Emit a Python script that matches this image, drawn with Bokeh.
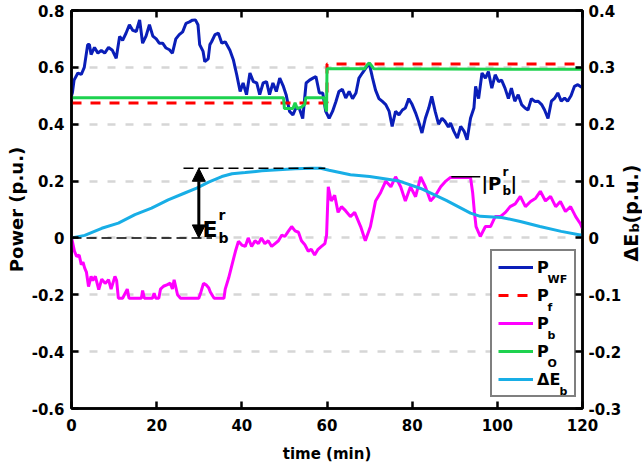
import math
from bokeh.plotting import figure
from bokeh.models import (Range1d, LinearAxis, FixedTicker, Legend, LegendItem,
                          Label, Arrow, NormalHead, BoxAnnotation)
from bokeh.embed import file_html
from bokeh.resources import INLINE

# ---------------- data ----------------
t_wf = [0, 0.2, 0.6, 1.5, 2.3, 3.0, 3.8, 4.2, 4.6, 5.4, 6.2, 7.0, 7.8, 8.7, 9.6, 10.5,
        11.3, 12.0, 12.8, 13.6, 14.4, 15.2, 16.0, 16.7, 17.5, 18.3, 19.1, 19.9, 20.6,
        21.4, 22.2, 23.0, 23.7, 24.5, 25.3, 26.1, 26.9, 27.7, 28.4, 29.1, 29.7, 30.1,
        30.9, 31.3, 32.1, 32.5, 32.9, 33.7, 34.5, 35.3, 36.1, 37.2, 38.0, 38.8, 39.6,
        40.3, 41.1, 41.9, 42.7, 43.5, 44.2, 45.0, 45.8, 46.5, 47.3, 48.1, 48.9, 49.7,
        50.4, 51.2, 52.0, 52.7, 53.5, 54.3, 55.1, 55.9, 56.7, 57.4, 58.2, 59.0, 59.7,
        60.5, 61.3, 62.1, 62.8, 63.6, 64.4, 65.2, 66.0, 66.8, 67.5, 68.3, 69.1, 69.9,
        70.7, 71.4, 72.2, 73.0, 73.8, 74.6, 75.3, 76.1, 76.9, 77.7, 78.4, 79.2, 80.0,
        80.8, 81.5, 82.3, 83.1, 83.9, 84.6, 85.4, 86.2, 87.0, 87.7, 88.5, 89.0, 89.8,
        90.6, 91.4, 92.2, 92.9, 93.7, 94.5, 94.9, 95.6, 96.4, 97.2, 97.9, 98.7, 99.5,
        100.3, 101.0, 101.8, 102.6, 103.3, 104.1, 104.9, 105.7, 106.5, 107.2, 108.0,
        108.8, 109.6, 110.4, 111.1, 111.9, 112.7, 113.5, 114.2, 115.0, 115.8, 116.5,
        117.3, 118.1, 118.9, 119.8]
p_wf = [0.50, 0.51, 0.555, 0.58, 0.575, 0.60, 0.68, 0.68, 0.645, 0.67, 0.65, 0.66, 0.65,
        0.67, 0.66, 0.632, 0.709, 0.695, 0.72, 0.75, 0.73, 0.726, 0.767, 0.685, 0.71,
        0.75, 0.71, 0.70, 0.685, 0.685, 0.668, 0.662, 0.65, 0.70, 0.715, 0.725, 0.755,
        0.76, 0.766, 0.767, 0.75, 0.68, 0.656, 0.62, 0.63, 0.68, 0.69, 0.715, 0.72,
        0.685, 0.69, 0.66, 0.627, 0.574, 0.515, 0.545, 0.504, 0.58, 0.55, 0.545, 0.504,
        0.545, 0.55, 0.504, 0.545, 0.515, 0.562, 0.535, 0.504, 0.445, 0.433, 0.457,
        0.455, 0.42, 0.545, 0.555, 0.562, 0.568, 0.51, 0.51, 0.445, 0.421, 0.445, 0.48,
        0.515, 0.523, 0.492, 0.515, 0.49, 0.51, 0.562, 0.58, 0.597, 0.615, 0.562, 0.52,
        0.49, 0.48, 0.469, 0.445, 0.392, 0.445, 0.433, 0.45, 0.457, 0.49, 0.469, 0.44,
        0.41, 0.369, 0.421, 0.457, 0.498, 0.445, 0.40, 0.421, 0.41, 0.39, 0.404, 0.375,
        0.351, 0.392, 0.375, 0.345, 0.421, 0.457, 0.533, 0.49, 0.58, 0.562, 0.585, 0.527,
        0.574, 0.55, 0.555, 0.527, 0.49, 0.527, 0.481, 0.504, 0.469, 0.457, 0.45, 0.49,
        0.48, 0.481, 0.469, 0.45, 0.42, 0.481, 0.492, 0.51, 0.481, 0.492, 0.481, 0.50,
        0.533, 0.539, 0.53]

t_f = [0, 60, 60, 120]
p_f = [0.475, 0.475, 0.612, 0.612]

t_o = [0, 49.8, 50.0, 52.0, 52.5, 53.0, 54.0, 54.8, 55.0, 59.4, 59.6, 59.9, 60.0,
       68.8, 69.5, 70.0, 70.5, 71.0, 120]
p_o = [0.493, 0.493, 0.455, 0.455, 0.475, 0.455, 0.46, 0.47, 0.493, 0.493, 0.46,
       0.445, 0.595, 0.595, 0.61, 0.615, 0.605, 0.595, 0.593]

t_b = [0, 0.2, 0.7, 1.2, 1.8, 2.3, 2.7, 3.1, 3.5, 4.0, 4.6, 5.0, 5.6, 6.4, 7.1, 7.9,
       8.7, 9.3, 10.2, 10.6, 11.0, 12.0, 13.1, 13.5, 16.4, 16.7, 17.1, 19.0, 19.4,
       19.8, 20.5, 20.9, 21.6, 22.4, 23.2, 23.7, 24.1, 24.9, 25.6, 29.9, 30.4, 31.0,
       31.6, 32.2, 32.6, 33.2, 33.5, 35.8, 36.1, 36.9, 37.7, 38.5, 39.2, 40.0, 40.8,
       41.5, 42.3, 43.1, 43.9, 44.6, 45.4, 46.2, 47.0, 47.8, 48.6, 49.4, 50.1, 50.9,
       51.7, 52.5, 53.3, 54.0, 54.8, 55.6, 56.3, 57.1, 57.9, 58.7, 59.5, 59.9, 60.3,
       61.0, 61.8, 62.6, 63.4, 64.4, 65.5, 66.5, 67.9, 69.0, 70.2, 71.4, 72.6, 73.8,
       75.0, 76.1, 77.3, 78.4, 79.6, 80.8, 82.0, 83.1, 84.3, 85.5, 86.7, 87.9, 89.0,
       93.7, 94.2, 94.6, 95.0, 96.0, 97.2, 98.4, 99.5, 100.7, 101.9, 103.0, 104.2,
       105.4, 106.6, 107.8, 109.0, 110.1, 111.3, 112.5, 113.7, 114.8, 116.0, 117.2,
       118.4, 119.5, 120]
p_b = [0.0, -0.012, -0.047, -0.065, -0.06, -0.094, -0.085, -0.106, -0.12, -0.171,
       -0.135, -0.15, -0.135, -0.182, -0.145, -0.16, -0.147, -0.18, -0.135, -0.15,
       -0.212, -0.212, -0.18, -0.212, -0.212, -0.185, -0.212, -0.212, -0.195, -0.212,
       -0.212, -0.18, -0.17, -0.165, -0.159, -0.18, -0.147, -0.2, -0.212, -0.212,
       -0.19, -0.16, -0.165, -0.175, -0.19, -0.205, -0.212, -0.212, -0.18, -0.141,
       -0.094, -0.047, -0.012, -0.025, -0.03, 0.0, -0.03, -0.01, -0.02, 0.0, -0.02,
       -0.01, -0.03, -0.02, -0.01, 0.01, 0.005, 0.023, 0.04, 0.025, 0.02, -0.01,
       -0.024, -0.047, -0.04, -0.06, -0.04, -0.03, -0.02, 0.01, 0.18, 0.13, 0.15,
       0.09, 0.11, 0.095, 0.075, 0.09, 0.04, -0.01, 0.04, 0.13, 0.16, 0.20, 0.18,
       0.215, 0.18, 0.13, 0.18, 0.145, 0.215, 0.18, 0.13, 0.15, 0.18, 0.20, 0.213,
       0.213, 0.16, 0.093, 0.04, 0.005, 0.04, 0.04, 0.075, 0.075, 0.09, 0.11, 0.12,
       0.146, 0.11, 0.128, 0.14, 0.164, 0.13, 0.146, 0.11, 0.128, 0.093, 0.11, 0.075,
       0.05, 0.033]

t_e = [0, 3.1, 7.1, 11.0, 14.9, 18.8, 22.7, 26.6, 29.4, 32.2, 35.3, 37.7, 40.8, 44.7,
       48.6, 52.5, 56.4, 58.5, 60.5, 65.5, 70, 77, 82, 88, 93.7, 96, 101, 105.4, 110,
       115, 119.5, 120]
d_e = [0, 0.0045, 0.017, 0.026, 0.041, 0.0525, 0.067, 0.079, 0.0875, 0.098, 0.108,
       0.113, 0.115, 0.118, 0.12, 0.1215, 0.1225, 0.1225, 0.119, 0.111, 0.108, 0.10,
       0.087, 0.066, 0.0435, 0.038, 0.036, 0.029, 0.02, 0.0115, 0.005, 0.006]

x_ticks = [0, 20, 40, 60, 80, 100, 120]
x_labels = ["0", "20", "40", "60", "80", "100", "120"]
yl_ticks = [-0.6, -0.4, -0.2, 0, 0.2, 0.4, 0.6, 0.8]
yl_labels = ["-0.6", "-0.4", "-0.2", "0", "0.2", "0.4", "0.6", "0.8"]
yr_ticks = [-0.3, -0.2, -0.1, 0, 0.1, 0.2, 0.3, 0.4]
yr_labels = ["-0.3", "-0.2", "-0.1", "0", "0.1", "0.2", "0.3", "0.4"]

# ---------------- styling ----------------
FONT = "DejaVu Sans"
TICK_FS = "15px"
C_WF, C_F, C_B, C_O, C_E = "#0a1eb8", "#ff0000", "#ff00ff", "#1ed24f", "#18aee6"
LW = 3

W, H = 642, 473
BL, BR, BT, BB = 71, 60, 10, 65
FW, FH = W - BL - BR, H - BT - BB
X0, X1, Y0, Y1 = 0, 120, -0.6, 0.8


def dx(px):
    return X0 + (px - BL) / FW * (X1 - X0)


def dy(py):
    return Y1 - (py - BT) / FH * (Y1 - Y0)


p = figure(frame_width=FW, frame_height=FH, output_backend="svg",
           toolbar_location=None,
           x_range=Range1d(X0, X1), y_range=Range1d(Y0, Y1),
           min_border_left=BL, min_border_right=BR, min_border_top=BT,
           min_border_bottom=BB, background_fill_color="white",
           border_fill_color="white")
p.extra_y_ranges = {"de": Range1d(-0.3, 0.4)}
p.outline_line_color = "black"
p.outline_line_width = 2.5

p.xgrid.visible = False
p.ygrid.ticker = FixedTicker(ticks=yl_ticks)
p.ygrid.grid_line_color = "#d6d6d6"
p.ygrid.grid_line_width = 2.5
p.ygrid.grid_line_dash = "8 10"

bottom_ax = p.below[0]
left_ax = p.left[0]
right_ax = LinearAxis(y_range_name="de")
top_ax = LinearAxis()
p.add_layout(right_ax, "right")
p.add_layout(top_ax, "above")


def style_axis(ax, ticks, labels, label_size="16px"):
    ax.ticker = FixedTicker(ticks=ticks)
    ax.major_label_overrides = dict(zip(ticks, labels))
    ax.axis_line_color = "black"
    ax.axis_line_width = 2.5
    ax.major_tick_line_color = "black"
    ax.major_tick_line_width = 2.5
    ax.major_tick_in = 7
    ax.major_tick_out = 0
    ax.minor_tick_line_color = None
    ax.major_label_text_font = FONT
    ax.major_label_text_font_style = "bold"
    ax.major_label_text_font_size = TICK_FS
    ax.major_label_text_color = "black"
    ax.axis_label_text_font = FONT
    ax.axis_label_text_font_style = "bold"
    ax.axis_label_text_font_size = label_size
    ax.axis_label_text_color = "black"


style_axis(bottom_ax, x_ticks, x_labels, "15px")
bottom_ax.major_label_standoff = 10
bottom_ax.axis_label = "time (min)"
bottom_ax.axis_label_standoff = 11
style_axis(left_ax, yl_ticks, yl_labels, "18px")
left_ax.major_label_standoff = 7
left_ax.axis_label = "Power (p.u.)"
left_ax.axis_label_standoff = 2
style_axis(right_ax, yr_ticks, yr_labels)
right_ax.major_label_standoff = 6
style_axis(top_ax, x_ticks, [""] * len(x_ticks))
top_ax.major_label_text_font_size = "1px"
top_ax.major_label_standoff = 0

# ---------------- series ----------------
r_wf = p.line(t_wf, p_wf, color=C_WF, line_width=LW)
r_f = p.line(t_f, p_f, color=C_F, line_width=LW, line_dash="10 9")
r_b = p.line(t_b, p_b, color=C_B, line_width=LW)
r_o = p.line(t_o, p_o, color=C_O, line_width=LW)
r_e = p.line(t_e, d_e, color=C_E, line_width=LW, y_range_name="de")

# ---------------- annotations ----------------
e_max = max(d_e) * 2          # battery energy reserve in left-axis units
pb_max = max(p_b)
ARROW_T = 29.9
p.line([26.3, 59.6], [e_max, e_max], color="black", line_width=1.5, line_dash="10 5")
p.line([0, 33.0], [0, 0], color="black", line_width=1.5, line_dash="10 5")
p.line([89.2, 96.0], [pb_max, pb_max], color="black", line_width=1.5)
p.add_layout(Arrow(x_start=ARROW_T, y_start=0, x_end=ARROW_T, y_end=e_max,
                   line_color="black", line_width=3,
                   start=NormalHead(size=13, fill_color="black", line_color="black"),
                   end=NormalHead(size=13, fill_color="black", line_color="black")))

# legend: white panel underneath, transparent Bokeh legend on top
LG_L, LG_B, LG_PAD, LG_SP, LG_H = 490, 397, 6, 8, 20
LG_W = 2 * LG_PAD + 35 + 4 + 31
LG_T = LG_B - (2 * LG_PAD + 5 * LG_H + 4 * LG_SP)
p.add_layout(BoxAnnotation(left=dx(LG_L), right=dx(LG_L + LG_W), bottom=dy(LG_B),
                           top=dy(LG_T), fill_color="white", fill_alpha=1,
                           line_color=None, level="underlay"))
legend = Legend(items=[LegendItem(label="P", renderers=[r_wf]),
                       LegendItem(label="P", renderers=[r_f]),
                       LegendItem(label="P", renderers=[r_b]),
                       LegendItem(label="P", renderers=[r_o]),
                       LegendItem(label="\u0394E", renderers=[r_e])],
                location=(LG_L - BL, H - BB - LG_B), padding=LG_PAD, spacing=LG_SP,
                margin=0, label_height=LG_H, glyph_height=LG_H, glyph_width=35,
                label_standoff=4, label_width=31,
                border_line_color="black", border_line_width=2,
                background_fill_alpha=0,
                label_text_font=FONT, label_text_font_style="bold",
                label_text_font_size="16px", label_text_color="black")
p.add_layout(legend, "center")


def make_label(px, py, s, size, angle=0, canvas=False):
    if canvas:
        lab = Label(x=px, y=py, x_units="canvas", y_units="canvas")
    else:
        lab = Label(x=dx(px), y=dy(py))
    lab.update(text=s, text_font=FONT, text_font_style="bold", text_font_size=size,
               text_align="left", text_baseline="alphabetic", angle=angle,
               text_color="black", level="overlay")
    return lab


subs = ["WF", "f", "b", "O", "b"]
for i, s in enumerate(subs):
    cy = LG_T + LG_PAD + LG_H / 2 + (LG_H + LG_SP) * i
    sx = 547 if i < 4 else 559
    p.add_layout(make_label(sx, cy + 10, s, "11px"))

# E_b^r
p.add_layout(make_label(202, 229, "E", "22px"))
p.add_layout(make_label(218, 214, "r", "14px"))
p.add_layout(make_label(218, 237, "b", "14px"))
# |P_b^r|
p.add_layout(make_label(481, 183, "|P", "18px"))
p.add_layout(make_label(502, 171, "r", "12px"))
p.add_layout(make_label(502, 190, "b", "12px"))
p.add_layout(make_label(510, 183, "|", "18px"))

# right axis label  ΔE_b (p.u.)  (placed in the right side panel)
ang = math.pi / 2
p.add_layout(make_label(630, 261, "\u0394E", "19px", angle=ang, canvas=True), "right")
p.add_layout(make_label(634, 232, "b", "13px", angle=ang, canvas=True), "right")
p.add_layout(make_label(630, 223, " (p.u.)", "19px", angle=ang, canvas=True), "right")

open("out.html", "w").write(file_html(p, INLINE))
